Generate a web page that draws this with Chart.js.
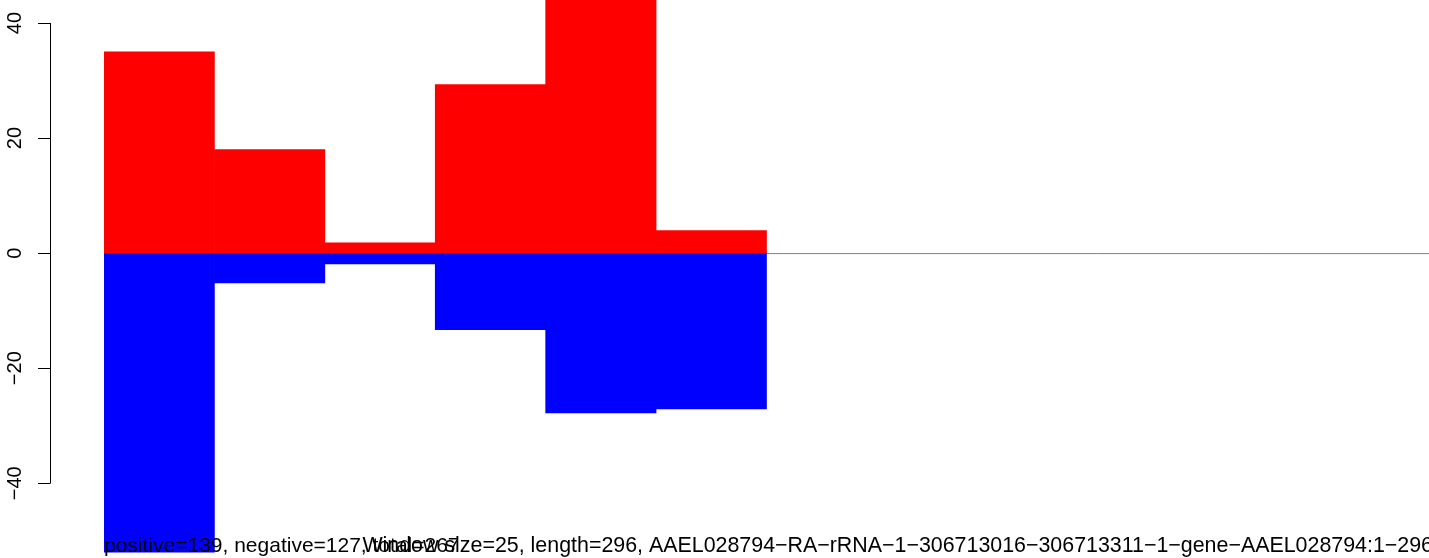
<!DOCTYPE html>
<html>
<head>
<meta charset="utf-8">
<script src="https://cdn.jsdelivr.net/npm/chart.js@4/dist/chart.umd.min.js"></script>
<style>
  html, body { margin: 0; padding: 0; background: #fff; }
  #wrap { width: 1429px; height: 558px; position: relative; }
</style>
</head>
<body>
<div id="wrap"><canvas id="grafico"></canvas></div>
<script>
// ventanas de 25 nt sobre 296 nt
var ventanas = ['1', '2', '3', '4', '5', '6', '7', '8', '9', '10', '11', '12'];
var positivos = [35, 18, 1.8, 29.3, 51, 3.9, null, null, null, null, null, null];
var negativos = [-52, -5.2, -1.9, -13.3, -27.8, -27.1, null, null, null, null, null, null];
var ticks_y = [-40, -20, 0, 20, 40];
var texto_izq = 'positive=139, negative=127, total=267';
var texto_der = 'Window size=25, length=296, AAEL028794\u2212RA\u2212rRNA\u22121\u2212306713016\u2212306713311\u22121\u2212gene\u2212AAEL028794:1\u2212296';

var fuente_eje = '20px "Liberation Sans", Arial, sans-serif';
var fuente = '21px "Liberation Sans", Arial, sans-serif';
var fuente_der = '21.4px "Liberation Sans", Arial, sans-serif';

// eje al estilo de R + linea en cero + textos de abajo
var ejeR = {
    id: 'ejeR',
    beforeDatasetsDraw: function (chart) {
        var c = chart.ctx, y = chart.scales.y, area = chart.chartArea;
        var y0 = y.getPixelForValue(0);
        c.save();
        c.strokeStyle = '#808080';
        c.lineWidth = 1;
        c.beginPath();
        c.moveTo(area.left, y0 + 0.5);
        c.lineTo(area.right, y0 + 0.5);
        c.stroke();
        c.restore();
    },
    afterDraw: function (chart) {
        var c = chart.ctx, y = chart.scales.y;
        var xe = 50;
        c.save();
        c.strokeStyle = '#000';
        c.lineWidth = 1;
        c.beginPath();
        c.moveTo(xe + 0.5, y.getPixelForValue(ticks_y[0]));
        c.lineTo(xe + 0.5, y.getPixelForValue(ticks_y[ticks_y.length - 1]));
        ticks_y.forEach(function (t) {
            var py = Math.round(y.getPixelForValue(t)) + 0.5;
            c.moveTo(xe + 0.5, py);
            c.lineTo(xe - 12, py);
        });
        c.stroke();

        c.fillStyle = '#000';
        c.font = fuente_eje;
        c.textAlign = 'center';
        c.textBaseline = 'alphabetic';
        ticks_y.forEach(function (t) {
            var py = y.getPixelForValue(t);
            c.save();
            c.translate(21, py);
            c.rotate(-Math.PI / 2);
            c.fillText(String(t).replace('-', '\u2212'), 0, 0);
            c.restore();
        });

        c.font = fuente;
        c.textAlign = 'left';
        c.fillText(texto_izq, 104, 552);
        c.font = fuente_der;
        c.textAlign = 'right';
        c.fillText(texto_der, 1433, 552);
        c.restore();
    }
};

var chart_barras = new Chart(document.getElementById('grafico').getContext('2d'), {
    type: 'bar',
    data: {
        labels: ventanas,
        datasets: [{
            data: positivos,
            backgroundColor: '#ff0000',
            borderWidth: 0,
            barPercentage: 1,
            categoryPercentage: 1
        }, {
            data: negativos,
            backgroundColor: '#0000ff',
            borderWidth: 0,
            barPercentage: 1,
            categoryPercentage: 1
        }]
    },
    options: {
        responsive: true,
        maintainAspectRatio: false,
        animation: false,
        events: [],
        layout: { padding: { left: 104, right: -2, top: 0, bottom: 0 } },
        plugins: { legend: { display: false }, tooltip: { enabled: false } },
        scales: {
            x: { display: false, stacked: true },
            y: { display: false, stacked: true, min: -53, max: 44 }
        }
    },
    plugins: [ejeR]
});
</script>
</body>
</html>
